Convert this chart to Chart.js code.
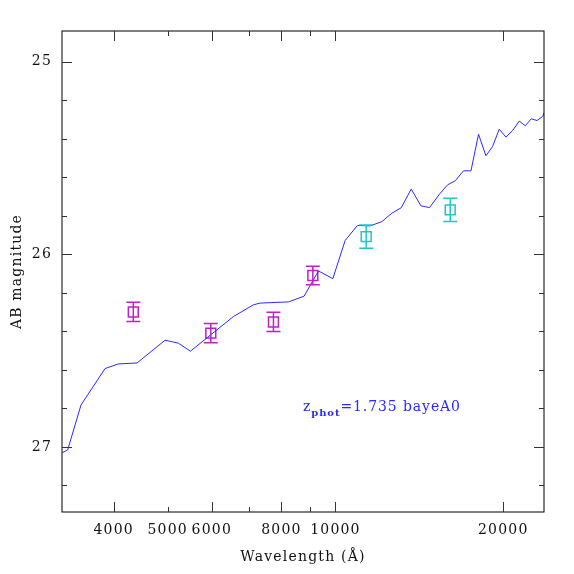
<!DOCTYPE html>
<html>
<head>
<meta charset="utf-8">
<script src="https://cdn.jsdelivr.net/npm/chart.js@4"></script>
<style>
  html, body { margin: 0; padding: 0; background: #fff; }
  #wrap { width: 574px; height: 574px; }
</style>
</head>
<body>
<div id="wrap"><canvas id="c"></canvas></div>
<script>
// model spectrum (wavelength in A, AB magnitude)
const sedWave = [3235, 3308, 3495, 3860, 4077, 4406, 4946, 5225, 5492, 6560, 7126, 7325,
  8234, 8785, 9322, 9892, 10409, 10951, 11543, 12112, 12626, 13122, 13676, 14236, 14752,
  15373, 15890, 16404, 16977, 17506, 18060, 18621, 19138, 19674, 20226, 20788, 21370,
  21906, 22460, 22998, 23533, 23900]
const sedMag = [27.03, 27.016, 26.782, 26.593, 26.569, 26.564, 26.446, 26.461, 26.503, 26.323, 26.262, 26.253,
  26.247, 26.217, 26.086, 26.126, 25.928, 25.85, 25.852, 25.83, 25.786, 25.758, 25.661, 25.748, 25.757,
  25.687, 25.639, 25.618, 25.566, 25.566, 25.376, 25.488, 25.44, 25.35, 25.391, 25.357, 25.308,
  25.332, 25.296, 25.305, 25.284, 25.24]

// photometry: optical (magenta) and near-IR (cyan)
const optWave = [4338, 5975, 7740, 9108]
const optMag = [26.299, 26.409, 26.351, 26.11]
const optErr = [0.05, 0.05, 0.05, 0.048]
const irWave = [11353, 16067]
const irMag = [25.908, 25.769]
const irErr = [0.06, 0.06]

const xTickLabels = [4000, 5000, 6000, 8000, 10000, 20000]
const xMajorTicks = [4000, 6000, 8000, 10000, 20000]
const xMinorTicks = [5000, 7000, 9000]
const yTickLabels = [25, 26, 27]
const yMinorTicks = [24.2, 24.4, 24.6, 24.8, 25.2, 25.4, 25.6, 25.8, 26.2, 26.4, 26.6, 26.8, 27.2, 27.4]

const magenta = '#c21fc2'
const cyan = '#1fc8c8'
const blue = '#2a2aff'
const fontFam = '"DejaVu Serif", serif'

function pts (xs, ys) {
  return xs.map((x, i) => ({ x: x, y: ys[i] }))
}

// the reference lettering is wide, so space the glyphs a little
const spacing = {
  id: 'spacing',
  beforeLayout (chart) { chart.ctx.letterSpacing = '1.2px' },
  beforeDraw (chart) { chart.ctx.letterSpacing = '1.2px' }
}

const frame = {
  id: 'frame',
  afterDraw (chart) {
    const ctx = chart.ctx
    const a = chart.chartArea
    const xs = chart.scales.x
    const ys = chart.scales.y
    ctx.save()
    ctx.strokeStyle = '#000'
    ctx.lineWidth = 1
    ctx.strokeRect(a.left, a.top, a.right - a.left, a.bottom - a.top)
    ctx.strokeStyle = '#333'
    ctx.beginPath()
    const xt = (v, len) => {
      const p = Math.round(xs.getPixelForValue(v)) + 0.5
      ctx.moveTo(p, a.bottom); ctx.lineTo(p, a.bottom - len)
      ctx.moveTo(p, a.top); ctx.lineTo(p, a.top + len)
    }
    const yt = (v, len) => {
      const p = Math.round(ys.getPixelForValue(v)) + 0.5
      if (p < a.top || p > a.bottom) return
      ctx.moveTo(a.left, p); ctx.lineTo(a.left + len, p)
      ctx.moveTo(a.right, p); ctx.lineTo(a.right - len, p)
    }
    xMajorTicks.forEach(v => xt(v, 10))
    xMinorTicks.forEach(v => xt(v, 5))
    yTickLabels.forEach(v => yt(v, 10))
    yMinorTicks.forEach(v => yt(v, 5))
    ctx.stroke()

    // label
    ctx.fillStyle = blue
    ctx.textBaseline = 'alphabetic'
    ctx.letterSpacing = '0.9px'
    const lx = a.left + 241
    const ly = a.top + 380
    ctx.font = '14px ' + fontFam
    ctx.fillText('z', lx, ly)
    let w = ctx.measureText('z').width
    ctx.font = 'bold 10px ' + fontFam
    ctx.fillText('phot', lx + w, ly + 5)
    w += ctx.measureText('phot').width
    ctx.font = '14px ' + fontFam
    ctx.fillText('=1.735 bayeA0', lx + w, ly)
    ctx.restore()
  }
}

const errorBars = {
  id: 'errorBars',
  afterDatasetsDraw (chart) {
    const ctx = chart.ctx
    const xs = chart.scales.x
    const ys = chart.scales.y
    const draw = (wave, mag, err, color) => {
      ctx.strokeStyle = color
      ctx.lineWidth = 1.5
      ctx.beginPath()
      wave.forEach((w, i) => {
        const x = xs.getPixelForValue(w)
        const y1 = ys.getPixelForValue(mag[i] - err[i])
        const y2 = ys.getPixelForValue(mag[i] + err[i])
        ctx.moveTo(x, y1); ctx.lineTo(x, y2)
        ctx.moveTo(x - 7, y1); ctx.lineTo(x + 7, y1)
        ctx.moveTo(x - 7, y2); ctx.lineTo(x + 7, y2)
      })
      ctx.stroke()
    }
    ctx.save()
    draw(optWave, optMag, optErr, magenta)
    draw(irWave, irMag, irErr, cyan)
    ctx.restore()
  }
}

new Chart(document.getElementById('c'), {
  type: 'scatter',
  data: {
    datasets: [{
      data: pts(sedWave, sedMag),
      showLine: true,
      borderColor: blue,
      borderWidth: 1,
      pointRadius: 0,
      tension: 0
    }, {
      data: pts(optWave, optMag),
      pointStyle: 'rect',
      pointRadius: 7,
      borderColor: magenta,
      backgroundColor: 'rgba(0,0,0,0)',
      pointBorderWidth: 1.5
    }, {
      data: pts(irWave, irMag),
      pointStyle: 'rect',
      pointRadius: 7,
      borderColor: cyan,
      backgroundColor: 'rgba(0,0,0,0)',
      pointBorderWidth: 1.5
    }]
  },
  options: {
    responsive: true,
    maintainAspectRatio: false,
    animation: false,
    layout: { padding: { top: 31, right: 30, left: 0, bottom: 0 } },
    plugins: { legend: { display: false }, tooltip: { enabled: false } },
    scales: {
      x: {
        type: 'logarithmic',
        min: 3231,
        max: 23670,
        grid: { display: false, drawTicks: false },
        border: { display: false },
        afterBuildTicks: s => { s.ticks = xTickLabels.map(v => ({ value: v })) },
        afterFit: s => { s.height = 62 },
        ticks: {
          autoSkip: false,
          maxRotation: 0,
          padding: 10,
          color: '#111',
          font: { family: fontFam, size: 14 },
          callback: v => String(v)
        },
        title: {
          display: true,
          text: 'Wavelength (Å)',
          color: '#111',
          font: { family: fontFam, size: 14 },
          padding: { top: 0, bottom: 8 }
        }
      },
      y: {
        min: 24.84,
        max: 27.338,
        reverse: true,
        grid: { display: false, drawTicks: false },
        border: { display: false },
        afterBuildTicks: s => { s.ticks = yTickLabels.map(v => ({ value: v })) },
        afterFit: s => { s.width = 62 },
        ticks: {
          padding: 10,
          color: '#111',
          font: { family: fontFam, size: 14 },
          callback: v => String(v)
        },
        title: {
          display: true,
          text: 'AB magnitude',
          color: '#111',
          font: { family: fontFam, size: 14 },
          padding: { top: 9, bottom: 0 }
        }
      }
    }
  },
  plugins: [spacing, errorBars, frame]
})
</script>
</body>
</html>
